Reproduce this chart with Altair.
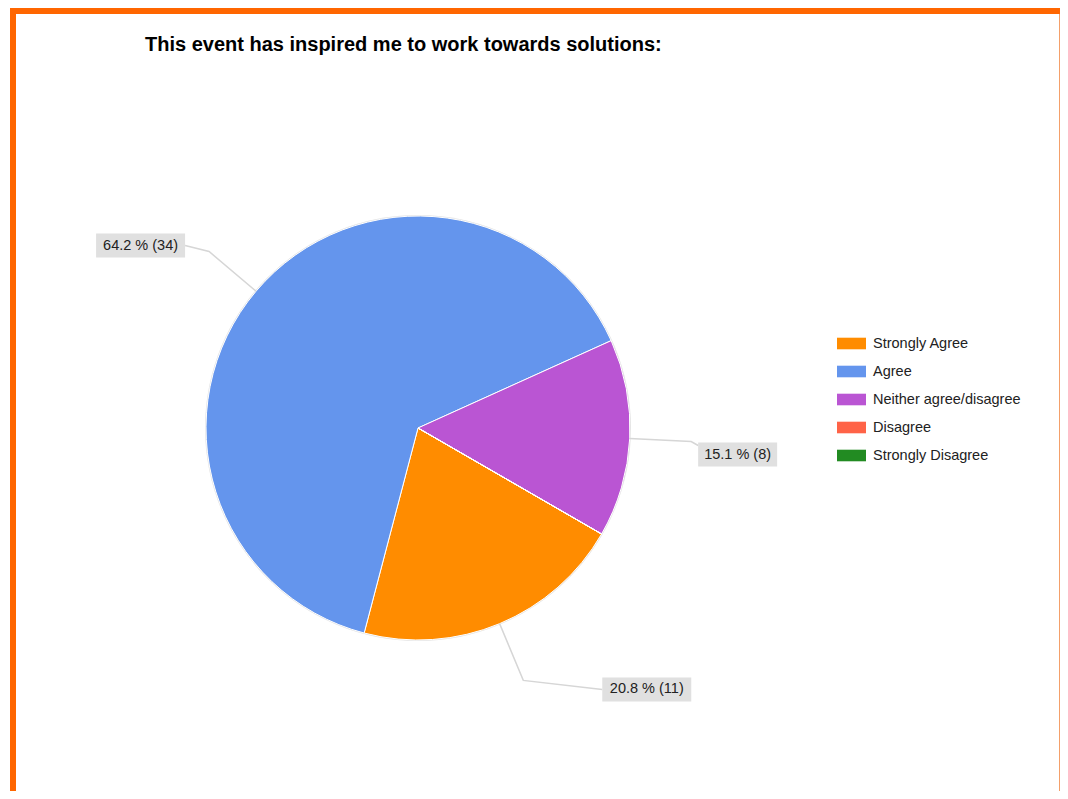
import math
import altair as alt
import pandas as pd

# ---------------- data ----------------
title_text = "This event has inspired me to work towards solutions:"
categories = ["Strongly Agree", "Agree", "Neither agree/disagree", "Disagree", "Strongly Disagree"]
counts = [11, 34, 8, 0, 0]
colors = ["#FF8C00", "#6495ED", "#BA55D3", "#FF6347", "#228B22"]

# ---------------- layout / style ----------------
W, H = 1052, 783
CX, CY, R = 410, 420, 212
START = math.radians(120)
ELBOW = 1.29
label_dx = {"Strongly Agree": 79, "Agree": -24, "Neither agree/disagree": 7}
label_dy = {"Strongly Agree": 9, "Agree": -6, "Neither agree/disagree": 13}
attach_dy = {"Strongly Agree": 0, "Agree": 0, "Neither agree/disagree": -9}
BOX_H = 24
FONT = "Liberation Sans"

total = sum(counts)
rows, line_rows, label_rows = [], [], []
acc = 0
for i, (cat, n) in enumerate(zip(categories, counts)):
    t0 = START + 2 * math.pi * acc / total
    acc += n
    t1 = START + 2 * math.pi * acc / total
    rows.append({"cat": cat, "t0": t0, "t1": t1, "idx": i})
    if n == 0:
        continue
    mid = (t0 + t1) / 2
    px, py = CX + R * math.sin(mid), CY - R * math.cos(mid)
    ex, ey = CX + ELBOW * R * math.sin(mid), CY - ELBOW * R * math.cos(mid)
    txt = f"{100 * n / total:.1f} % ({n})"
    w = 10 * len(txt) - 21
    dx = label_dx[cat]
    cy_box = ey + label_dy[cat]
    if dx > 0:
        x0 = ex + dx
        x1 = x0 + w
        ax = x0
    else:
        x1 = ex + dx
        x0 = x1 - w
        ax = x1
    ay = cy_box + attach_dy[cat]
    for k, (lx, ly) in enumerate([(px, py), (ex, ey), (ax, ay)]):
        line_rows.append({"cat": cat, "k": k, "x": lx, "y": ly})
    label_rows.append({"cat": cat, "text": txt, "x0": x0, "x1": x1,
                       "y0": cy_box - BOX_H / 2, "y1": cy_box + BOX_H / 2,
                       "xc": (x0 + x1) / 2, "yc": cy_box})

slices = pd.DataFrame(rows)
lines = pd.DataFrame(line_rows)
labels = pd.DataFrame(label_rows)
one = alt.Data(values=[{}])

rect_path = "M-1,-0.4L1,-0.4L1,0.4L-1,0.4Z"

ring = alt.Chart(one).mark_arc(
    outerRadius=R + 1, theta=0, theta2=2 * math.pi, fill="#e2e2e2"
).encode(x=alt.value(CX), y=alt.value(CY))

pie = alt.Chart(slices).mark_arc(
    outerRadius=R, stroke="white", strokeWidth=1
).encode(
    theta=alt.Theta("t0:Q", scale=None),
    theta2="t1:Q",
    x=alt.value(CX),
    y=alt.value(CY),
    color=alt.Color(
        "cat:N",
        scale=alt.Scale(domain=categories, range=colors),
        legend=alt.Legend(
            title=None, orient="none", legendX=829, legendY=321,
            symbolType=rect_path, symbolSize=841, symbolStrokeWidth=0,
            symbolOpacity=1, labelFont=FONT, labelFontSize=14.5,
            labelColor="#222222", labelOffset=7, rowPadding=7, padding=0,
        ),
    ),
    order=alt.Order("idx:Q"),
)

leaders = alt.Chart(lines).mark_line(
    stroke="#d6d6d6", strokeWidth=1.5
).encode(
    x=alt.X("x:Q", scale=None),
    y=alt.Y("y:Q", scale=None),
    detail="cat:N",
    order="k:Q",
)

boxes = alt.Chart(labels).mark_rect(fill="#e0e0e0").encode(
    x=alt.X("x0:Q", scale=None), x2="x1:Q",
    y=alt.Y("y0:Q", scale=None), y2="y1:Q",
)

texts = alt.Chart(labels).mark_text(
    font=FONT, fontSize=14.5, color="#222222", align="center", baseline="middle"
).encode(
    x=alt.X("xc:Q", scale=None),
    y=alt.Y("yc:Q", scale=None),
    text="text:N",
)

title = alt.Chart(one).mark_text(
    font=FONT, fontSize=20, fontWeight="bold", color="#000000",
    align="left", baseline="alphabetic"
).encode(x=alt.value(137), y=alt.value(43), text=alt.value(title_text))

top_bar = alt.Chart(one).mark_rect(color="#FF6600").encode(
    x=alt.value(2), x2=alt.value(W), y=alt.value(0), y2=alt.value(6)
)
left_bar = alt.Chart(one).mark_rect(color="#FF6600").encode(
    x=alt.value(2), x2=alt.value(8), y=alt.value(0), y2=alt.value(H)
)
right_line = alt.Chart(one).mark_rect(color="#F4A06A").encode(
    x=alt.value(W - 1), x2=alt.value(W), y=alt.value(6), y2=alt.value(H)
)

chart = alt.layer(
    ring, pie, leaders, boxes, texts, title, top_bar, left_bar, right_line
).properties(
    width=W, height=H, autosize=alt.AutoSizeParams(type="none"), padding=0
).configure_view(stroke="transparent")

chart.save("out.html", embed_options={"renderer": "svg", "actions": False})
